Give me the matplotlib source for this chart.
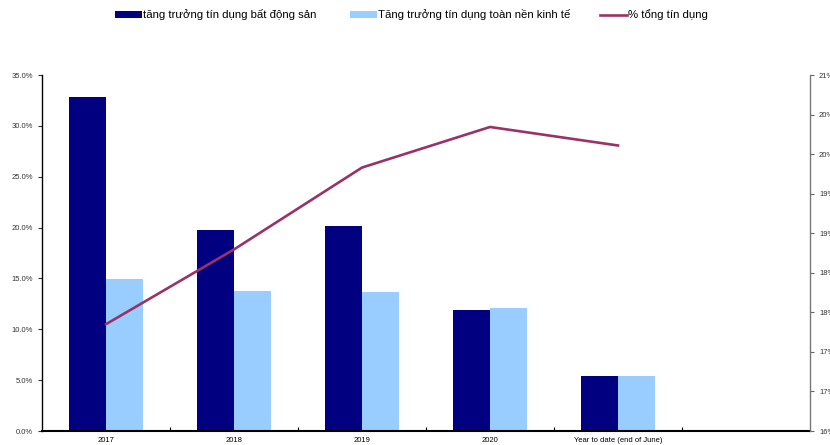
import matplotlib
matplotlib.use("Agg")
import matplotlib.pyplot as plt
import numpy as np

plt.rcParams['font.family'] = ['Liberation Sans', 'DejaVu Sans']

# Du lieu doc tu bieu do
categories = ["2017", "2018", "2019", "2020", "Year to date (end of June)"]
bds = [32.8, 19.8, 20.2, 11.9, 5.4]        # tang truong tin dung bat dong san (%)
toan_nen = [14.9, 13.8, 13.7, 12.1, 5.4]   # tang truong tin dung toan nen kinh te (%)
ty_trong = [17.5, 18.55, 19.7, 20.27, 20.01]  # % tong tin dung (truc phai)

left_ticks = [0, 5, 10, 15, 20, 25, 30, 35]
right_labels = ["16%", "17%", "17%", "18%", "18%", "19%", "19%", "20%", "20%", "21%"]

c_dark = "#000080"
c_light = "#99CCFF"
c_line = "#993366"

fig = plt.figure(figsize=(8.3, 4.45), dpi=100)
ax = fig.add_axes([42 / 830, 14 / 445, 768 / 830, 356 / 445])
ax2 = ax.twinx()

x = np.arange(len(categories))
w = 0.29
ax.bar(x - w / 2, bds, w, color=c_dark, label="tăng trưởng tín dụng bất động sản", zorder=2)
ax.bar(x + w / 2, toan_nen, w, color=c_light, label="Tăng trưởng tín dụng toàn nền kinh tế", zorder=2)
ln, = ax2.plot(x, ty_trong, color=c_line, lw=1.9, label="% tổng tín dụng")

ax.set_xlim(-0.5, 5.5)
ax.set_ylim(0, 35)
ax.set_yticks(left_ticks)
ax.set_yticklabels([f"{v:.1f}%" for v in left_ticks])
ax.set_xticks(x)
ax.set_xticklabels(categories)
ax.set_xticks(np.arange(0.5, 5.5, 1), minor=True)
ax.tick_params(axis='x', which='major', length=0, labelsize=5.5, pad=4)
ax.tick_params(axis='x', which='minor', direction='in', length=3, width=0.8)
ax.tick_params(axis='y', length=3, width=0.8, labelsize=5.5, colors='#333333', labelcolor='#333333')

# truc phai: 16% - 21%, 9 khoang
ax2.set_ylim(16, 21)
ax2.set_yticks(np.linspace(16, 21, len(right_labels)))
ax2.set_yticklabels(right_labels)
ax2.tick_params(axis='y', length=3, width=0.8, labelsize=5.5, colors='#666666', labelcolor='#333333')

for a in (ax, ax2):
    a.spines['top'].set_visible(False)
ax.spines['left'].set_linewidth(1.0)
ax.spines['bottom'].set_linewidth(1.5)
ax.spines['right'].set_visible(False)
ax2.spines['left'].set_visible(False)
ax2.spines['bottom'].set_visible(False)
ax2.spines['right'].set_color('#777777')
ax2.spines['right'].set_linewidth(1.0)

h, l = ax.get_legend_handles_labels()
items = [(h[0], l[0], 115), (h[1], l[1], 350), (ln, ln.get_label(), 600)]
for handle, label, xpos in items:
    fig.legend([handle], [label], loc='center left',
               bbox_to_anchor=(xpos / 830, 1 - 15 / 445),
               frameon=False, fontsize=8.2, handlelength=2.35, handleheight=0.45,
               handletextpad=0.15, borderpad=0, borderaxespad=0)

fig.savefig("out.png", dpi=100)
